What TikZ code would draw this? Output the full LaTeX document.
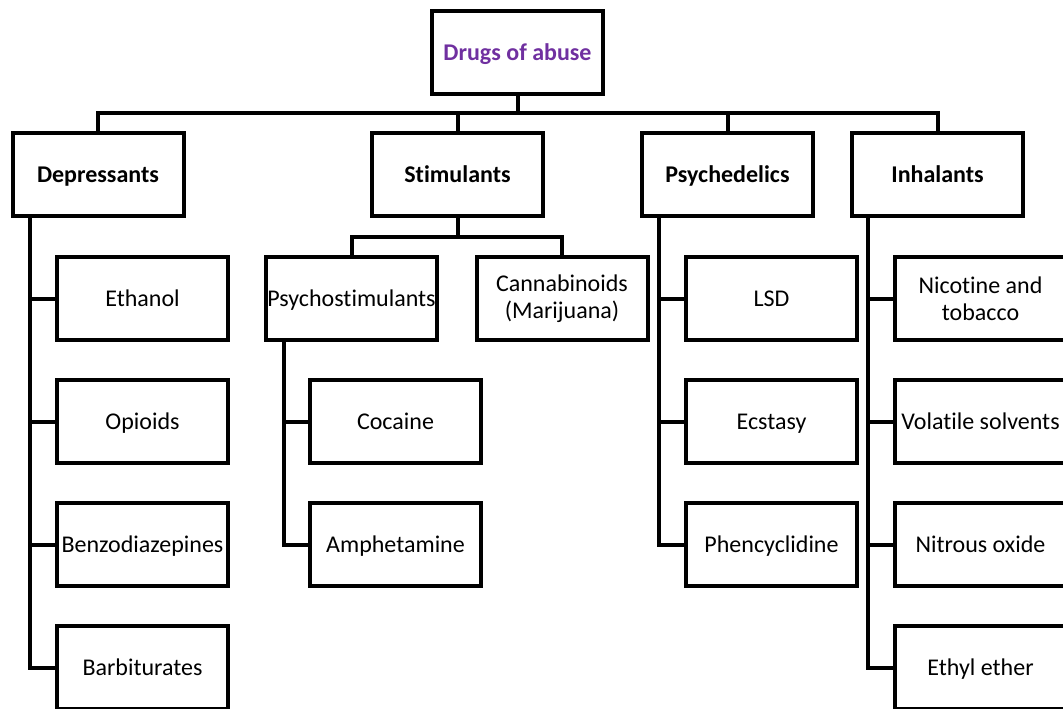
\documentclass[tikz,border=0pt]{standalone}
\usepackage{fontspec}
\setmainfont{Carlito}[Ligatures={NoCommon}]
\definecolor{drugpurple}{RGB}{112,48,160}
\newcommand{\lowr}[1]{\raisebox{-1.5pt}{#1}}
\begin{document}
\begin{tikzpicture}[x=0.75pt,y=-0.75pt,
  anybox/.style={draw, line width=3pt, minimum width=128.25pt, minimum height=62.25pt,
    inner sep=0pt, align=center, font=\fontsize{18}{20.25}\selectfont},
  box/.style={anybox, text height=11.6pt, text depth=0pt},
  twobox/.style={anybox},
  headbox/.style={box, font=\fontsize{18}{20.25}\selectfont\bfseries},
  conn/.style={line width=3pt}]
\useasboundingbox (0,0) rectangle (1063,709);
\clip (0,0) rectangle (1063,709);
% root
\node[headbox, text=drugpurple] (top) at (517.5,52.5) {Drugs of abuse};
% level 1
\node[headbox] (dep) at (98,174.5) {Depressants};
\node[headbox] (sti) at (457.5,174.5) {Stimulants};
\node[headbox] (psy) at (727.5,174.5) {Psychedelics};
\node[headbox] (inh) at (937.5,174.5) {Inhalants};
% depressants
\node[box] (eth) at (142.5,298.5) {Ethanol};
\node[box] (opi) at (142.5,421.5) {Opioids};
\node[box] (ben) at (142.5,544.5) {Benzodiazepines};
\node[box] (bar) at (142.5,667.5) {Barbiturates};
% stimulants
\node[box] (pst) at (351.5,298.5) {Psychostimulants};
\node[twobox] (can) at (562,298.5) {\lowr{Cannabinoids}\\\lowr{(Marijuana)}};
\node[box] (coc) at (395.5,421.5) {Cocaine};
\node[box] (amp) at (395.5,544.5) {Amphetamine};
% psychedelics
\node[box] (lsd) at (771.5,298.5) {LSD};
\node[box] (ecs) at (771.5,421.5) {Ecstasy};
\node[box] (phe) at (771.5,544.5) {Phencyclidine};
% inhalants
\node[twobox] (nic) at (980.5,298.5) {\lowr{Nicotine and}\\\lowr{tobacco}};
\node[box] (vol) at (980.5,421.5) {Volatile solvents};
\node[box] (nit) at (980.5,544.5) {Nitrous oxide};
\node[box] (ety) at (980.5,667.5) {Ethyl ether};
% spine coordinates
\coordinate (bus) at (0,113);
\coordinate (depS) at (30,215);
\coordinate (stiB) at (0,237);
\coordinate (pstS) at (284,340);
\coordinate (psyS) at (659,215);
\coordinate (inhS) at (868,215);
% root bus
\draw[conn] (top.south) -- (top.south |- bus);
\draw[conn] (dep.north) -- (dep.north |- bus) -| (inh.north);
\draw[conn] (sti.north) -- (sti.north |- bus);
\draw[conn] (psy.north) -- (psy.north |- bus);
% depressants
\draw[conn] (depS) |- (bar.west);
\draw[conn] (eth.west) -- (eth.west -| depS);
\draw[conn] (opi.west) -- (opi.west -| depS);
\draw[conn] (ben.west) -- (ben.west -| depS);
% stimulants
\draw[conn] (sti.south) -- (sti.south |- stiB);
\draw[conn] (pst.north) -- (pst.north |- stiB) -| (can.north);
\draw[conn] (pstS) |- (amp.west);
\draw[conn] (coc.west) -- (coc.west -| pstS);
% psychedelics
\draw[conn] (psyS) |- (phe.west);
\draw[conn] (lsd.west) -- (lsd.west -| psyS);
\draw[conn] (ecs.west) -- (ecs.west -| psyS);
% inhalants
\draw[conn] (inhS) |- (ety.west);
\draw[conn] (nic.west) -- (nic.west -| inhS);
\draw[conn] (vol.west) -- (vol.west -| inhS);
\draw[conn] (nit.west) -- (nit.west -| inhS);
\end{tikzpicture}
\end{document}
